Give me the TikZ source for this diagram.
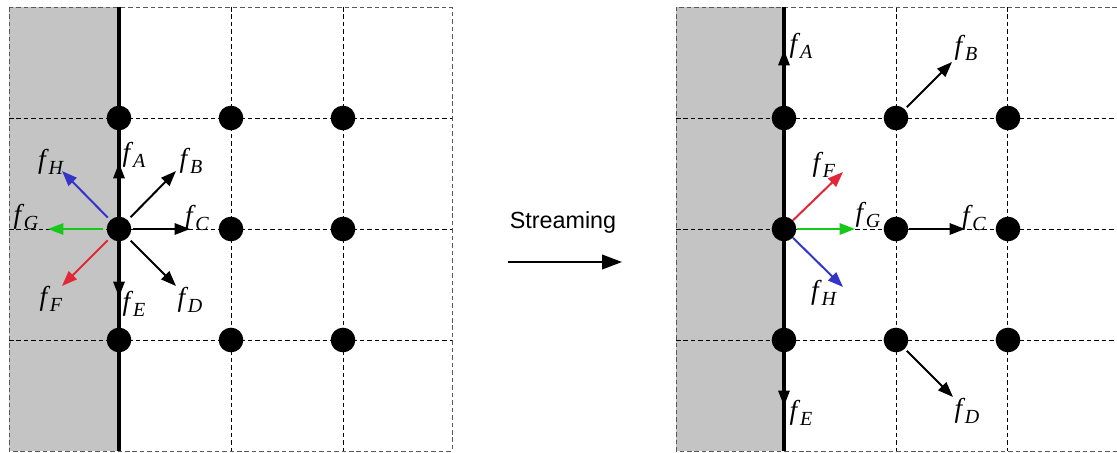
\documentclass[tikz,border=0pt]{standalone}
\usepackage{fontspec}
\setmainfont{Liberation Serif}
\newfontfamily\sansfnt{Liberation Sans}
\usetikzlibrary{arrows.meta}
\definecolor{wallgray}{RGB}{196,196,196}
\definecolor{fred}{RGB}{224,40,56}
\definecolor{fgreen}{RGB}{24,200,24}
\definecolor{fblue}{RGB}{52,52,200}
\newcommand\flab[1]{\fontsize{20.5}{20.5}\selectfont\textit{f}\kern-0.3pt\raisebox{-4.8pt}{\fontsize{15}{15}\selectfont\textit{#1}}}
\begin{document}
\begin{tikzpicture}[x=0.75pt,y=-0.75pt,
  gridline/.style={dash pattern=on 3.4pt off 2.2pt, line width=0.65pt},
  borderline/.style={gridline, draw=black!65},
  wall/.style={line width=3pt},
  dot/.style={circle, fill=black, minimum size=18.5pt, inner sep=0pt},
  arr/.style={line width=1.5pt, -{Triangle[length=11.5pt,width=8.5pt]}},
  bigarr/.style={line width=1.4pt, -{Triangle[length=15pt,width=11pt]}},
  lab/.style={inner sep=0pt}]
\useasboundingbox (0,0) rectangle (1117,453);

% ---------------- left panel ----------------
\fill[wallgray] (9,7) rectangle (119,451);
\foreach \y in {118,229,340} \draw[gridline] (9,\y) -- (452,\y);
\foreach \x in {231,343} \draw[gridline] (\x,7) -- (\x,451);
\draw[borderline] (9,7) rectangle (452,451);
\draw[wall] (119,7) -- (119,451);

\node[dot] (L11) at (119,118) {};
\node[dot] (L12) at (231,118) {};
\node[dot] (L13) at (343,118) {};
\node[dot] (L21) at (119,229) {};
\node[dot] (L22) at (231,229) {};
\node[dot] (L23) at (343,229) {};
\node[dot] (L31) at (119,340) {};
\node[dot] (L32) at (231,340) {};
\node[dot] (L33) at (343,340) {};

\coordinate (lA) at (119,163);
\coordinate (lB) at (176,171);
\coordinate (lC) at (190,229);
\coordinate (lD) at (176,286);
\coordinate (lE) at (119,297);
\coordinate (lF) at (62,286);
\coordinate (lG) at (48,229);
\coordinate (lH) at (62,171);

\draw[arr] (L21) -- (lA);
\draw[arr, shorten <=3pt] (L21) -- (lB);
\draw[arr, shorten <=1pt] (L21) -- (lC);
\draw[arr, shorten <=3pt] (L21) -- (lD);
\draw[arr] (L21) -- (lE);
\draw[arr, fred, shorten <=2.5pt] (L21) -- (lF);
\draw[arr, fgreen, shorten <=2.5pt] (L21) -- (lG);
\draw[arr, fblue, shorten <=2.5pt] (L21) -- (lH);

\node[lab] (tlA) at (134,155) {\flab{A}};
\node[lab] (tlB) at (191,161) {\flab{B}};
\node[lab] (tlC) at (197,218) {\flab{C}};
\node[lab] (tlD) at (190,300) {\flab{D}};
\node[lab] (tlE) at (134,304) {\flab{E}};
\node[lab] (tlF) at (51,299) {\flab{F}};
\node[lab] (tlG) at (26,217) {\flab{G}};
\node[lab] (tlH) at (51,162) {\flab{H}};

% ---------------- streaming arrow ----------------
\node[lab] (stream) at (563,222) {\sansfnt\fontsize{17.5}{17.5}\selectfont Streaming};
\coordinate (s1) at (508,262);
\coordinate (s2) at (622,262);
\draw[bigarr] (s1) -- (s2);

% ---------------- right panel ----------------
\fill[wallgray] (676,7) rectangle (784,451);
\foreach \y in {118,229,340} \draw[gridline] (676,\y) -- (1117,\y);
\foreach \x in {896,1007} \draw[gridline] (\x,7) -- (\x,451);
\draw[borderline] (1117,7) -- (676,7) -- (676,451) -- (1117,451);
\draw[wall] (784,7) -- (784,451);

\node[dot] (R11) at (784,118) {};
\node[dot] (R12) at (896,118) {};
\node[dot] (R13) at (1008,118) {};
\node[dot] (R21) at (784,229) {};
\node[dot] (R22) at (896,229) {};
\node[dot] (R23) at (1008,229) {};
\node[dot] (R31) at (784,340) {};
\node[dot] (R32) at (896,340) {};
\node[dot] (R33) at (1008,340) {};

\coordinate (rA) at (784,50);
\coordinate (rB) at (952,62);
\coordinate (rC) at (965,229);
\coordinate (rD) at (953,397);
\coordinate (rE) at (784,406);
\coordinate (rF) at (843,172);
\coordinate (rG) at (855,229);
\coordinate (rH) at (843,287);

\draw[arr] (R11) -- (rA);
\draw[arr, shorten <=2pt] (R12) -- (rB);
\draw[arr] (R22) -- (rC);
\draw[arr, shorten <=2pt] (R32) -- (rD);
\draw[arr] (R31) -- (rE);
\draw[arr, fred] (R21) -- (rF);
\draw[arr, fgreen] (R21) -- (rG);
\draw[arr, fblue] (R21) -- (rH);

\node[lab] (trA) at (801,46) {\flab{A}};
\node[lab] (trB) at (966,48) {\flab{B}};
\node[lab] (trC) at (974,218) {\flab{C}};
\node[lab] (trD) at (967,411) {\flab{D}};
\node[lab] (trE) at (801,413) {\flab{E}};
\node[lab] (trF) at (824,165) {\flab{F}};
\node[lab] (trG) at (868,215) {\flab{G}};
\node[lab] (trH) at (824,293) {\flab{H}};
\end{tikzpicture}
\end{document}
